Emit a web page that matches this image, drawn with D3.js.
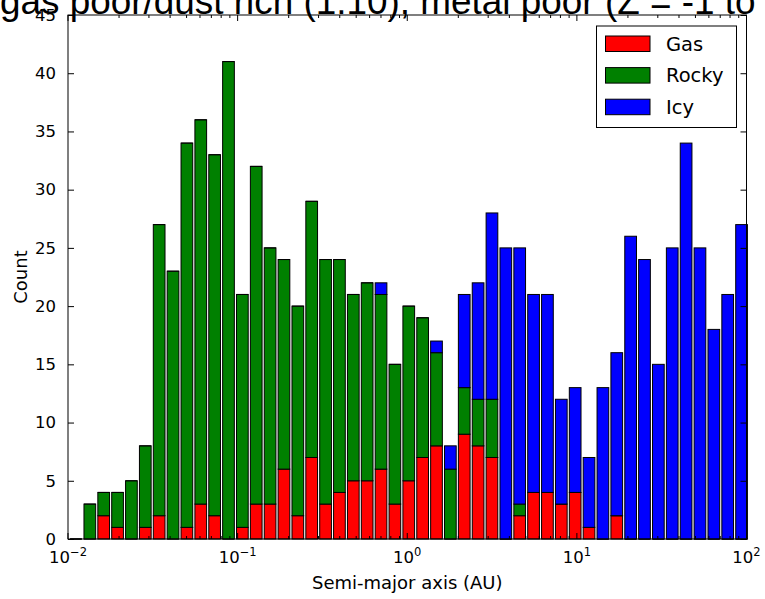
<!DOCTYPE html>
<html>
<head>
<meta charset="utf-8">
<script src="https://cdn.jsdelivr.net/npm/d3@7"></script>
<style>
  html, body { margin: 0; padding: 0; background: #fff; }
  svg { display: block; }
</style>
</head>
<body>
<script>
// ---- data ----
const titleText = "gas poor/dust rich (1:10), metal poor (Z = -1 to";
const seriesNames = ["Gas", "Rocky", "Icy"];
// 49 log-spaced semi-major-axis bins (left edge exponent and step, in log10 AU)
const binStartLog10 = -1.9876;
const binStepLog10 = 0.08175;
const gas   = [0,0,2,1,0,1,2,0,1,3, 2,0,1,3,3,6,2,7,3,4, 5,5,6,3,5,7,8,0,9,8, 7,0,2,4,4,3,4,1,0,2, 0,0,0,0,0,0,0,0,0];
const rocky = [0,3,2,3,5,7,25,23,33,33, 31,41,20,29,22,18,18,22,21,20, 16,17,15,12,15,12,8,6,4,4, 5,0,1,0,0,0,0,0,0,0, 0,0,0,0,0,0,0,0,0];
const icy   = [0,0,0,0,0,0,0,0,0,0, 0,0,0,0,0,0,0,0,0,0, 0,0,1,0,0,0,1,2,8,10, 16,25,22,17,17,9,9,6,13,14, 26,24,15,25,34,25,18,21,27];
const yTicks = [0,5,10,15,20,25,30,35,40,45];
const xTickExps = [-2,-1,0,1,2];

// ---- layout / style ----
const W = 765, H = 599;
const M = { left: 68, right: 746.5, top: 15, bottom: 539 };
const colors = { Gas: "#ff0000", Rocky: "#008000", Icy: "#0000ff" };
const barFrac = 0.844;
const tickFont = "'DejaVu Sans', sans-serif";

const rows = gas.map((g, i) => {
  const lo = binStartLog10 + i * binStepLog10;
  return { lo: Math.pow(10, lo), hi: Math.pow(10, lo + binStepLog10 * barFrac), Gas: g, Rocky: rocky[i], Icy: icy[i] };
});

const x = d3.scaleLog().domain([0.01, 100]).range([M.left, M.right]);
const y = d3.scaleLinear().domain([0, 45]).range([M.bottom, M.top]);

const svg = d3.select("body").append("svg").attr("width", W).attr("height", H);

// title (clipped at top like the reference)
svg.append("text")
  .attr("x", 0).attr("y", 14)
  .attr("font-family", "'Liberation Sans', Arial, sans-serif")
  .attr("font-size", 36.9)
  .attr("fill", "#000")
  .text(titleText);

// bars
const stack = d3.stack().keys(seriesNames)(rows);
const gBars = svg.append("g");
stack.forEach(layer => {
  const key = layer.key;
  layer.forEach((d, i) => {
    const r = rows[i];
    const x0 = x(r.lo), x1 = x(r.hi);
    const y0 = y(d[0]), y1 = y(d[1]);
    if (d[1] - d[0] > 0) {
      gBars.append("rect")
        .attr("x", x0).attr("y", y1)
        .attr("width", x1 - x0).attr("height", y0 - y1)
        .attr("fill", colors[key]).attr("stroke", "#000").attr("stroke-width", 1);
    } else {
      gBars.append("path")
        .attr("d", `M${x0},${y0}H${x1}`)
        .attr("stroke", "#000").attr("stroke-width", 1).attr("fill", "none");
    }
  });
});

// axes frame
const gAx = svg.append("g");
gAx.append("rect")
  .attr("x", M.left).attr("y", M.top)
  .attr("width", M.right - M.left).attr("height", M.bottom - M.top)
  .attr("fill", "none").attr("stroke", "#000").attr("stroke-width", 1);

// y axis (ticks inward, both sides)
const yAxisL = d3.axisLeft(y).tickValues(yTicks).tickSizeInner(-6).tickSizeOuter(0).tickPadding(12);
const gy = svg.append("g").attr("transform", `translate(${M.left},0)`).call(yAxisL);
gy.select(".domain").remove();
gy.selectAll("text").attr("font-family", tickFont).attr("font-size", 16.5).attr("fill", "#000");
const gyR = svg.append("g").attr("transform", `translate(${M.right},0)`)
  .call(d3.axisRight(y).tickValues(yTicks).tickSizeInner(-6).tickSizeOuter(0).tickFormat(""));
gyR.select(".domain").remove();

// x axis: major + minor ticks, inward, bottom and top
const minorVals = [];
xTickExps.slice(0, -1).forEach(e => { for (let k = 2; k <= 9; k++) minorVals.push(k * Math.pow(10, e)); });
const majorVals = xTickExps.map(e => Math.pow(10, e));
[["bottom", M.bottom, -1], ["top", M.top, 1]].forEach(([side, yy, dir]) => {
  const g = svg.append("g");
  majorVals.forEach(v => g.append("line").attr("x1", x(v)).attr("x2", x(v)).attr("y1", yy).attr("y2", yy + dir * 6).attr("stroke", "#000"));
  minorVals.forEach(v => g.append("line").attr("x1", x(v)).attr("x2", x(v)).attr("y1", yy).attr("y2", yy + dir * 3).attr("stroke", "#000"));
});
const gxl = svg.append("g");
xTickExps.forEach(e => {
  const t = gxl.append("text")
    .attr("x", x(Math.pow(10, e))).attr("y", 563)
    .attr("text-anchor", "middle")
    .attr("font-family", tickFont).attr("font-size", 16.5).attr("fill", "#000");
  t.append("tspan").text("10");
  t.append("tspan").attr("dy", -7).attr("font-size", 11.5).text(e < 0 ? "\u2212" + Math.abs(e) : String(e));
});

// axis labels
svg.append("text").attr("x", (M.left + M.right) / 2).attr("y", 589)
  .attr("text-anchor", "middle").attr("font-family", tickFont).attr("font-size", 18).attr("fill", "#000")
  .text("Semi-major axis (AU)");
svg.append("text").attr("transform", `translate(27,${(M.top + M.bottom) / 2}) rotate(-90)`)
  .attr("text-anchor", "middle").attr("font-family", tickFont).attr("font-size", 18).attr("fill", "#000")
  .text("Count");

// legend
const lg = svg.append("g");
lg.append("rect").attr("x", 596.5).attr("y", 26).attr("width", 140).attr("height", 101.5)
  .attr("fill", "#fff").attr("stroke", "#000").attr("stroke-width", 1);
seriesNames.forEach((s, i) => {
  const yy = 36 + i * 31.6;
  lg.append("rect").attr("x", 605.5).attr("y", yy).attr("width", 44.5).attr("height", 15.5)
    .attr("fill", colors[s]).attr("stroke", "#000").attr("stroke-width", 1);
  lg.append("text").attr("x", 666).attr("y", yy + 14.5)
    .attr("font-family", tickFont).attr("font-size", 19.5).attr("fill", "#000").text(s);
});
</script>
</body>
</html>
